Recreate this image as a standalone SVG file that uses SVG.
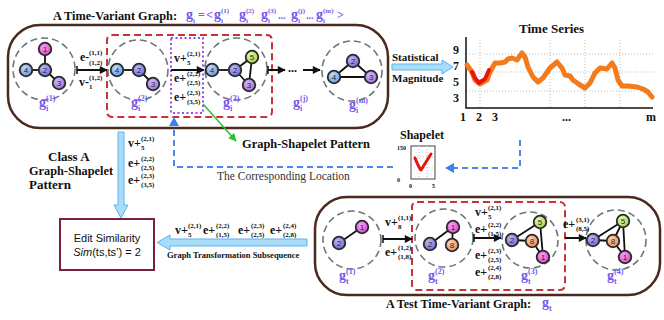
<svg xmlns="http://www.w3.org/2000/svg" width="664" height="320" viewBox="0 0 664 320">
<style>
.t{font-family:"Liberation Serif",serif;font-weight:bold;fill:#111}
.m{font-size:12px}
.s{font-size:7px}
.p{fill:#7657f0}
.pg{font-size:14px}
.ps{font-size:8px}
.fs{font-size:7px}
.ring{fill:none;stroke:#6b7878;stroke-width:1.6;stroke-dasharray:7 4}
.ed{stroke:#111;stroke-width:1.8}
.nd{stroke:#2a2a2a;stroke-width:1.8}
.nt{font-family:"Liberation Sans",sans-serif;font-size:8px;fill:#222;text-anchor:middle}
.blk{stroke:#111;stroke-width:2;fill:none}
.bd{stroke:#4a88f0;stroke-width:2;fill:none;stroke-dasharray:6 4}
.big{fill:#a9dcf8;stroke:#5cb4f0;stroke-width:1}
.grid{stroke:#bbb;stroke-width:1;stroke-dasharray:1 2;fill:none}
.c1{fill:url(#g1)}.c2{fill:url(#g2)}.c3{fill:url(#g3)}.c4{fill:url(#g4)}.c5{fill:url(#g5)}.c8{fill:url(#g8)}
</style>
<defs>
<radialGradient id="g1" cx="0.4" cy="0.35" r="0.7"><stop offset="0" stop-color="#f7a6f3"/><stop offset="1" stop-color="#d83ed4"/></radialGradient>
<radialGradient id="g2" cx="0.4" cy="0.35" r="0.7"><stop offset="0" stop-color="#bdb8f6"/><stop offset="1" stop-color="#6f66d8"/></radialGradient>
<radialGradient id="g3" cx="0.4" cy="0.35" r="0.7"><stop offset="0" stop-color="#d4bdf6"/><stop offset="1" stop-color="#9a6ae0"/></radialGradient>
<radialGradient id="g4" cx="0.4" cy="0.35" r="0.7"><stop offset="0" stop-color="#c2dcfa"/><stop offset="1" stop-color="#5e98e8"/></radialGradient>
<radialGradient id="g5" cx="0.4" cy="0.35" r="0.7"><stop offset="0" stop-color="#e4f7b0"/><stop offset="1" stop-color="#a2d83a"/></radialGradient>
<radialGradient id="g8" cx="0.4" cy="0.35" r="0.7"><stop offset="0" stop-color="#fbd2b6"/><stop offset="1" stop-color="#e88a54"/></radialGradient>
<marker id="ah" viewBox="0 0 10 10" refX="9" refY="5" markerWidth="9" markerHeight="8" markerUnits="userSpaceOnUse" orient="auto"><path d="M0,0 L10,5 L0,10 z" fill="#111"/></marker>
<marker id="ag" viewBox="0 0 10 10" refX="9" refY="5" markerWidth="9" markerHeight="8" markerUnits="userSpaceOnUse" orient="auto"><path d="M0,0 L10,5 L0,10 z" fill="#2ec02e"/></marker>
</defs>
<rect width="664" height="320" fill="#fff"/>

<!-- containers -->
<g id="top-container">
<rect x="8" y="25" width="380" height="103" rx="32" fill="none" stroke="#4a2a1e" stroke-width="2.5"/>
<rect x="107" y="35" width="165" height="82" rx="5" fill="none" stroke="#c8323a" stroke-width="2" stroke-dasharray="7 4"/>
<rect x="171" y="38" width="32" height="75" fill="none" stroke="#9a4af0" stroke-width="2" stroke-dasharray="2 2.5"/>
<text class="t" x="53" y="20" font-size="13" textLength="124" lengthAdjust="spacingAndGlyphs">A Time-Variant Graph:</text>
<g class="t p">
<text x="186" y="19" class="pg">g</text><text x="193" y="23" class="fs">i</text>
<text x="198" y="19" font-size="12">=</text><text x="206" y="19" font-size="12">&lt;</text>
<text x="214" y="19" class="pg">g</text><text x="221" y="13" class="fs">(1)</text><text x="221" y="23" class="fs">i</text>
<text x="239" y="19" class="pg">g</text><text x="246" y="13" class="fs">(2)</text><text x="246" y="23" class="fs">i</text>
<text x="261" y="19" class="pg">g</text><text x="268" y="13" class="fs">(3)</text><text x="268" y="23" class="fs">i</text>
<text x="278" y="19" font-size="10">...</text>
<text x="291" y="19" class="pg">g</text><text x="298" y="13" class="fs">(j)</text><text x="298" y="23" class="fs">i</text>
<text x="306" y="19" font-size="10">...</text>
<text x="316" y="19" class="pg">g</text><text x="323" y="13" class="fs">(m)</text><text x="323" y="23" class="fs">i</text>
<text x="337" y="19" font-size="12">&gt;</text>
</g>
</g>

<g id="bottom-container">
<rect x="315" y="197" width="345" height="98" rx="32" fill="none" stroke="#4a2a1e" stroke-width="2.5"/>
<rect x="412" y="202" width="153" height="88" rx="5" fill="none" stroke="#c8323a" stroke-width="2" stroke-dasharray="7 4"/>
<text class="t" x="386" y="308" font-size="13" textLength="145" lengthAdjust="spacingAndGlyphs">A Test Time-Variant Graph:</text>
<g class="t p"><text x="542" y="307" class="pg">g</text><text x="549" y="311" class="ps">t</text></g>
</g>

<!-- graph snapshots -->
<g id="gi1">
<circle class="ring" cx="44" cy="69" r="31"/>
<line class="ed" x1="45" y1="49" x2="45" y2="70"/><line class="ed" x1="26" y1="70" x2="45" y2="70"/><line class="ed" x1="45" y1="70" x2="59" y2="83"/>
<circle class="nd c1" cx="45" cy="49" r="6.3"/><text class="nt" x="45" y="52">1</text>
<circle class="nd c2" cx="45" cy="70" r="6.3"/><text class="nt" x="45" y="73">2</text>
<circle class="nd c4" cx="26" cy="70" r="6.3"/><text class="nt" x="26" y="73">4</text>
<circle class="nd c3" cx="59" cy="83" r="6.3"/><text class="nt" x="59" y="86">3</text>
<g class="t p"><text x="39" y="107" class="pg">g</text><text x="46" y="101" class="ps">(1)</text><text x="46" y="111" class="ps">i</text></g>
</g>
<g id="gi2">
<circle class="ring" cx="138" cy="70" r="30"/>
<line class="ed" x1="117" y1="70" x2="139" y2="70"/><line class="ed" x1="139" y1="70" x2="153" y2="84"/>
<circle class="nd c4" cx="117" cy="70" r="6.3"/><text class="nt" x="117" y="73">4</text>
<circle class="nd c2" cx="139" cy="70" r="6.3"/><text class="nt" x="139" y="73">2</text>
<circle class="nd c3" cx="153" cy="84" r="6.3"/><text class="nt" x="153" y="87">3</text>
<g class="t p"><text x="131" y="107" class="pg">g</text><text x="138" y="101" class="ps">(2)</text><text x="138" y="111" class="ps">i</text></g>
</g>
<g id="gi3">
<circle class="ring" cx="236" cy="69" r="31"/>
<line class="ed" x1="212" y1="70" x2="235" y2="70"/><line class="ed" x1="235" y1="70" x2="252" y2="57"/><line class="ed" x1="235" y1="70" x2="249" y2="85"/><line class="ed" x1="252" y1="57" x2="249" y2="85"/>
<circle class="nd c4" cx="212" cy="70" r="6.3"/><text class="nt" x="212" y="73">4</text>
<circle class="nd c2" cx="235" cy="70" r="6.3"/><text class="nt" x="235" y="73">2</text>
<circle class="nd c5" cx="252" cy="57" r="6.3"/><text class="nt" x="252" y="60">5</text>
<circle class="nd c3" cx="249" cy="85" r="6.3"/><text class="nt" x="249" y="88">3</text>
<g class="t p"><text x="223" y="107" class="pg">g</text><text x="230" y="101" class="ps">(3)</text><text x="230" y="111" class="ps">i</text></g>
</g>
<g id="gij">
<g class="t p"><text x="293" y="107" class="pg">g</text><text x="300" y="101" class="ps">(j)</text><text x="300" y="111" class="ps">i</text></g>
</g>
<g id="gim">
<circle class="ring" cx="352" cy="71" r="30"/>
<line class="ed" x1="334" y1="77" x2="353" y2="61"/><line class="ed" x1="353" y1="61" x2="371" y2="77"/><line class="ed" x1="334" y1="77" x2="371" y2="77"/>
<circle class="nd c2" cx="353" cy="61" r="6.3"/><text class="nt" x="353" y="64">2</text>
<circle class="nd c4" cx="334" cy="77" r="6.3"/><text class="nt" x="334" y="80">4</text>
<circle class="nd c3" cx="371" cy="77" r="6.3"/><text class="nt" x="371" y="80">3</text>
<g class="t p"><text x="349" y="109" class="pg">g</text><text x="356" y="103" class="ps">(m)</text><text x="356" y="113" class="ps">i</text></g>
</g>

<g id="gt1">
<circle class="ring" cx="352" cy="240" r="29"/>
<line class="ed" x1="339" y1="243" x2="362" y2="227"/>
<circle class="nd c1" cx="362" cy="227" r="6.3"/><text class="nt" x="362" y="230">1</text>
<circle class="nd c2" cx="339" cy="243" r="6.3"/><text class="nt" x="339" y="246">2</text>
<g class="t p"><text x="339" y="280" class="pg">g</text><text x="346" y="274" class="ps">(1)</text><text x="346" y="284" class="ps">t</text></g>
</g>
<g id="gt2">
<circle class="ring" cx="444" cy="238" r="29"/>
<line class="ed" x1="430" y1="244" x2="453" y2="227"/><line class="ed" x1="453" y1="227" x2="452" y2="245"/>
<circle class="nd c1" cx="453" cy="227" r="6.3"/><text class="nt" x="453" y="230">1</text>
<circle class="nd c2" cx="430" cy="244" r="6.3"/><text class="nt" x="430" y="247">2</text>
<circle class="nd c8" cx="452" cy="245" r="6.3"/><text class="nt" x="452" y="248">8</text>
<g class="t p"><text x="428" y="280" class="pg">g</text><text x="435" y="274" class="ps">(2)</text><text x="435" y="284" class="ps">t</text></g>
</g>
<g id="gt3">
<circle class="ring" cx="530" cy="240" r="28"/>
<line class="ed" x1="512" y1="240" x2="540" y2="222"/><line class="ed" x1="512" y1="240" x2="532" y2="241"/><line class="ed" x1="532" y1="241" x2="543" y2="257"/><line class="ed" x1="540" y1="222" x2="543" y2="257"/>
<circle class="nd c5" cx="540" cy="222" r="6.3"/><text class="nt" x="540" y="225">5</text>
<circle class="nd c2" cx="512" cy="240" r="6.3"/><text class="nt" x="512" y="243">2</text>
<circle class="nd c8" cx="532" cy="241" r="6.3"/><text class="nt" x="532" y="244">8</text>
<circle class="nd c1" cx="543" cy="257" r="6.3"/><text class="nt" x="543" y="260">1</text>
<g class="t p"><text x="521" y="280" class="pg">g</text><text x="528" y="274" class="ps">(3)</text><text x="528" y="284" class="ps">t</text></g>
</g>
<g id="gt4">
<circle class="ring" cx="616" cy="240" r="30"/>
<line class="ed" x1="593" y1="240" x2="623" y2="221"/><line class="ed" x1="593" y1="240" x2="613" y2="241"/><line class="ed" x1="613" y1="241" x2="625" y2="257"/><line class="ed" x1="623" y1="221" x2="625" y2="257"/><line class="ed" x1="613" y1="241" x2="623" y2="221"/>
<circle class="nd c5" cx="623" cy="221" r="6.3"/><text class="nt" x="623" y="224">5</text>
<circle class="nd c2" cx="593" cy="240" r="6.3"/><text class="nt" x="593" y="243">2</text>
<circle class="nd c8" cx="613" cy="241" r="6.3"/><text class="nt" x="613" y="244">8</text>
<circle class="nd c1" cx="625" cy="257" r="6.3"/><text class="nt" x="625" y="260">1</text>
<g class="t p"><text x="607" y="280" class="pg">g</text><text x="614" y="274" class="ps">(4)</text><text x="614" y="284" class="ps">t</text></g>
</g>

<!-- time series -->
<g id="time-series">
<text class="t" x="519" y="33" font-size="13">Time Series</text>
<line class="grid" x1="466" y1="54" x2="653" y2="54"/><line class="grid" x1="466" y1="72" x2="653" y2="72"/><line class="grid" x1="466" y1="91" x2="653" y2="91"/>
<line class="grid" x1="480" y1="40" x2="480" y2="108"/><line class="grid" x1="550" y1="40" x2="550" y2="108"/><line class="grid" x1="585" y1="40" x2="585" y2="108"/><line class="grid" x1="620" y1="40" x2="620" y2="108"/>
<polyline points="466,37 466,108 653,108" fill="none" stroke="#111" stroke-width="1.5"/>
<g class="t m"><text x="453" y="54">9</text><text x="453" y="70">7</text><text x="453" y="86">5</text><text x="453" y="102">3</text>
<text x="460" y="121">1</text><text x="476" y="121">2</text><text x="492" y="121">3</text><text x="562" y="121">...</text><text x="646" y="121">m</text></g>
<polyline fill="none" stroke="#f57a1a" stroke-width="5" stroke-linejoin="round" stroke-linecap="round" points="467,65 472,72 475,80 480,84 487,80 490,72 495,63 500,63 505,62 508,59 512,58 517,60 522,53 525,57 528,67 533,77 538,82 543,78 550,68 557,62 562,68 565,75 570,76 573,80 580,85 585,88 590,83 595,73 600,68 607,69 612,63 615,68 618,80 622,86 628,86 637,87 643,89 648,92 652,97"/>
<polyline fill="none" stroke="#e8140c" stroke-width="4" stroke-linejoin="round" stroke-linecap="round" points="472,72 475,78 479,83 485,79 489,70"/>
</g>

<!-- shapelet -->
<g id="shapelet">
<text class="t" x="400" y="139" font-size="12">Shapelet</text>
<rect x="411" y="146" width="24" height="33" fill="#fff" stroke="#444" stroke-width="1"/>
<line class="grid" x1="411" y1="157" x2="435" y2="157"/><line class="grid" x1="411" y1="168" x2="435" y2="168"/><line class="grid" x1="419" y1="146" x2="419" y2="179"/><line class="grid" x1="427" y1="146" x2="427" y2="179"/>
<path d="M415,158 Q418,166 421,170 Q426,162 431,154" fill="none" stroke="#e8140c" stroke-width="3" stroke-linecap="round" stroke-linejoin="round"/>
<g class="t" font-size="6"><text x="397" y="150">150</text><text x="397" y="182">0</text><text x="409" y="188">0</text><text x="432" y="188">5</text></g>
</g>

<!-- edit similarity -->
<g id="edit-similarity">
<rect x="60" y="219" width="94" height="51" fill="#fff" stroke="#7a1f3d" stroke-width="2"/>
<text x="107" y="242" font-family="Liberation Sans, sans-serif" font-size="11" text-anchor="middle" fill="#111">Edit Similarity</text>
<text x="107" y="256" font-family="Liberation Sans, sans-serif" font-size="11" text-anchor="middle" fill="#111"><tspan font-style="italic">Sim</tspan>(ts,ts’) = 2</text>
</g>

<!-- free labels -->
<g id="labels">
<text class="t" x="48" y="161" font-size="13">Class A</text>
<text class="t" x="29" y="175" font-size="13" textLength="84" lengthAdjust="spacingAndGlyphs">Graph-Shapelet</text>
<text class="t" x="29" y="189" font-size="13">Pattern</text>
<text class="t" x="242" y="148" font-size="13" textLength="128" lengthAdjust="spacingAndGlyphs">Graph-Shapelet Pattern</text>
<text x="217" y="180" font-family="Liberation Serif, serif" font-size="11.5" fill="#333">The Corresponding Location</text>
<text class="t" x="392" y="61" font-size="11">Statistical</text>
<text class="t" x="392" y="82" font-size="11">Magnitude</text>
<text class="t" x="167" y="258" font-size="8.5">Graph Transformation Subsequence</text>
</g>

<!-- connectors -->
<g id="connectors">
<line x1="77" y1="66" x2="77" y2="74" stroke="#111" stroke-width="1.5"/>
<line class="blk" x1="77" y1="70" x2="107" y2="70" marker-end="url(#ah)"/>
<line class="blk" x1="171" y1="70" x2="204" y2="70" marker-end="url(#ah)"/>
<line x1="268" y1="66" x2="268" y2="74" stroke="#111" stroke-width="1.5"/>
<line class="blk" x1="268" y1="70" x2="285" y2="70" marker-end="url(#ah)"/>
<text class="t" x="288" y="72" font-size="12">...</text>
<line class="blk" x1="303" y1="70" x2="320" y2="70" marker-end="url(#ah)"/>
<line x1="383" y1="235" x2="383" y2="243" stroke="#111" stroke-width="1.5"/>
<line class="blk" x1="383" y1="239" x2="412" y2="239" marker-end="url(#ah)"/>
<line x1="474" y1="234" x2="474" y2="242" stroke="#111" stroke-width="1.5"/>
<line class="blk" x1="474" y1="238" x2="501" y2="238" marker-end="url(#ah)"/>
<line class="blk" x1="565" y1="238" x2="586" y2="238" marker-end="url(#ah)"/>
<line x1="203" y1="104" x2="236" y2="141" stroke="#2ec02e" stroke-width="1.5" marker-end="url(#ag)"/>
<path class="bd" d="M393,167 H174 V124"/>
<path d="M169,126 L174,117 L179,126 z" fill="#3a80f0"/>
<path class="bd" d="M520,140 V168 H452"/>
<path d="M454,163 L445,168 L454,173 z" fill="#3a80f0"/>
<path class="big" d="M392,64 H442 V60 L453,67 L442,74 V70 H392 z"/>
<path class="big" d="M118,132 H124 V205 H128 L121,218 L114,205 H118 z"/>
<path class="big" d="M307,239 V246 H170 V250 L157,242.5 L170,235 V239 z"/>
<g class="t">
<text class="m" x="80" y="61">e-</text><text class="s" x="89" y="55">(1,1)</text><text class="s" x="89" y="64.5">(1,2)</text>
<text class="m" x="79" y="86">v-</text><text class="s" x="89" y="80">(1,2)</text><text class="s" x="89" y="89">1</text>
<text class="m" x="174" y="62">v+</text><text class="s" x="187" y="56">(2,1)</text><text class="s" x="187" y="65">5</text>
<text class="m" x="174" y="82">e+</text><text class="s" x="187" y="76">(2,2)</text><text class="s" x="187" y="85">(2,5)</text>
<text class="m" x="174" y="101">e+</text><text class="s" x="187" y="95">(2,3)</text><text class="s" x="187" y="104">(3,5)</text>
<text class="m" x="128" y="147">v+</text><text class="s" x="141" y="141">(2,1)</text><text class="s" x="141" y="150">5</text>
<text class="m" x="128" y="167">e+</text><text class="s" x="141" y="161">(2,2)</text><text class="s" x="141" y="170">(2,5)</text>
<text class="m" x="128" y="184">e+</text><text class="s" x="141" y="178">(2,3)</text><text class="s" x="141" y="187">(3,5)</text>
<text class="m" x="175" y="234">v+</text><text class="s" x="188" y="228">(2,1)</text><text class="s" x="188" y="237">5</text>
<text class="m" x="203" y="234">e+</text><text class="s" x="216" y="228">(2,2)</text><text class="s" x="216" y="237">(1,5)</text>
<text class="m" x="238" y="234">e+</text><text class="s" x="251" y="228">(2,3)</text><text class="s" x="251" y="237">(2,5)</text>
<text class="m" x="270" y="234">e+</text><text class="s" x="283" y="228">(2,4)</text><text class="s" x="283" y="237">(2,8)</text>
<text class="m" x="385" y="226">v+</text><text class="s" x="398" y="220">(1,1)</text><text class="s" x="398" y="229">8</text>
<text class="m" x="385" y="256">e+</text><text class="s" x="398" y="250">(1,2)</text><text class="s" x="398" y="259">(1,8)</text>
<text class="m" x="475" y="216">v+</text><text class="s" x="488" y="210">(2,1)</text><text class="s" x="488" y="218.5">5</text>
<text class="m" x="475" y="233">e+</text><text class="s" x="488" y="227">(2,2)</text><text class="s" x="488" y="236">(1,5)</text>
<text class="m" x="475" y="259">e+</text><text class="s" x="488" y="253">(2,3)</text><text class="s" x="488" y="262">(2,5)</text>
<text class="m" x="475" y="276">e+</text><text class="s" x="488" y="270">(2,4)</text><text class="s" x="488" y="279">(2,8)</text>
<text class="m" x="563" y="228">e+</text><text class="s" x="576" y="222">(3,1)</text><text class="s" x="576" y="231">(8,5)</text>
</g>
</g>
</svg>
